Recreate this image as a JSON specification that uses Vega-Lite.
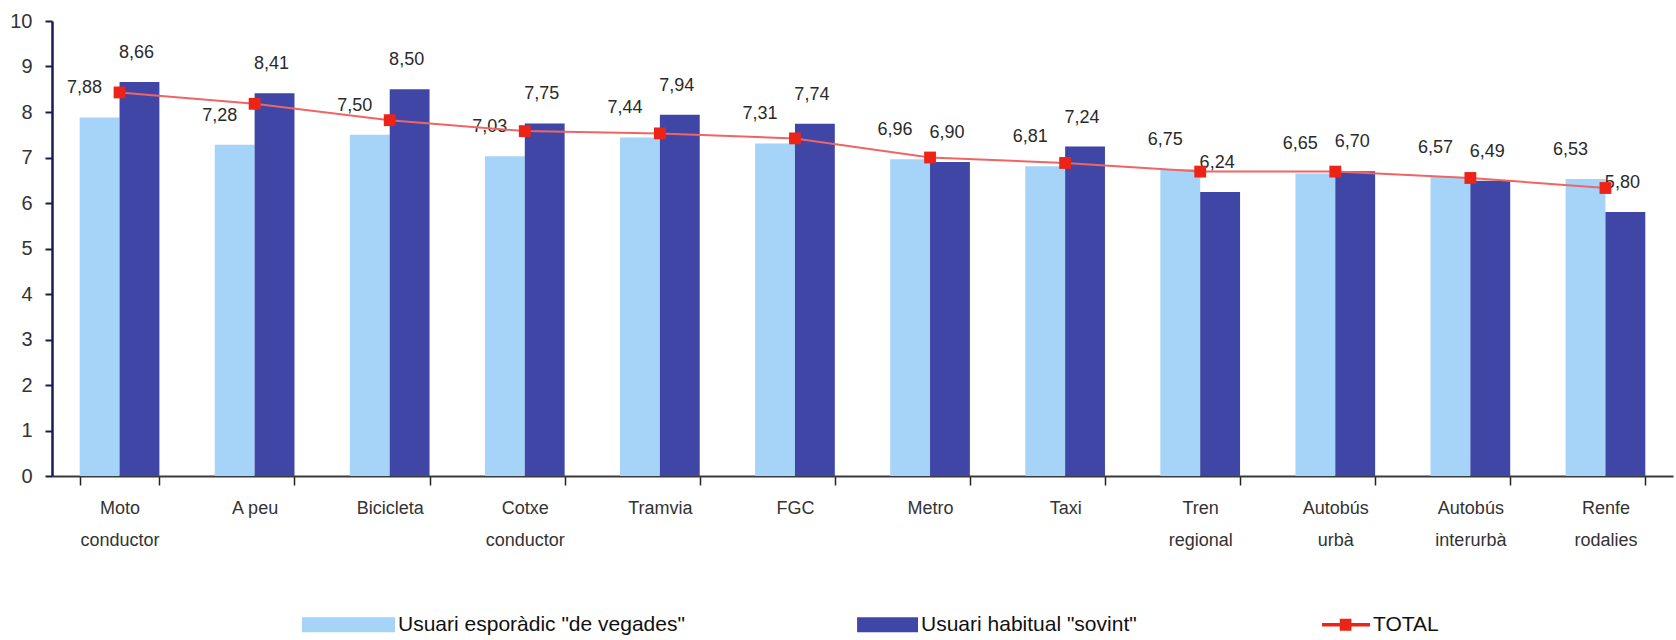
{
  "$schema": "https://vega.github.io/schema/vega-lite/v6.json",
  "width": 1621,
  "height": 455,
  "autosize": {"type": "none"},
  "padding": {"left": 52, "top": 21, "right": 3, "bottom": 164},
  "background": "white",
  "config": {
    "view": {"stroke": null},
    "font": "Liberation Sans",
    "locale": {
      "number": {"decimal": ",", "thousands": ".", "grouping": [3], "currency": ["", " €"]}
    }
  },
  "datasets": {
    "bars": [
      {"mode": "Moto conductor", "serie": "Usuari esporàdic \"de vegades\"", "valor": 7.88},
      {"mode": "Moto conductor", "serie": "Usuari habitual \"sovint\"", "valor": 8.66},
      {"mode": "A peu", "serie": "Usuari esporàdic \"de vegades\"", "valor": 7.28},
      {"mode": "A peu", "serie": "Usuari habitual \"sovint\"", "valor": 8.41},
      {"mode": "Bicicleta", "serie": "Usuari esporàdic \"de vegades\"", "valor": 7.50},
      {"mode": "Bicicleta", "serie": "Usuari habitual \"sovint\"", "valor": 8.50},
      {"mode": "Cotxe conductor", "serie": "Usuari esporàdic \"de vegades\"", "valor": 7.03},
      {"mode": "Cotxe conductor", "serie": "Usuari habitual \"sovint\"", "valor": 7.75},
      {"mode": "Tramvia", "serie": "Usuari esporàdic \"de vegades\"", "valor": 7.44},
      {"mode": "Tramvia", "serie": "Usuari habitual \"sovint\"", "valor": 7.94},
      {"mode": "FGC", "serie": "Usuari esporàdic \"de vegades\"", "valor": 7.31},
      {"mode": "FGC", "serie": "Usuari habitual \"sovint\"", "valor": 7.74},
      {"mode": "Metro", "serie": "Usuari esporàdic \"de vegades\"", "valor": 6.96},
      {"mode": "Metro", "serie": "Usuari habitual \"sovint\"", "valor": 6.90},
      {"mode": "Taxi", "serie": "Usuari esporàdic \"de vegades\"", "valor": 6.81},
      {"mode": "Taxi", "serie": "Usuari habitual \"sovint\"", "valor": 7.24},
      {"mode": "Tren regional", "serie": "Usuari esporàdic \"de vegades\"", "valor": 6.75},
      {"mode": "Tren regional", "serie": "Usuari habitual \"sovint\"", "valor": 6.24},
      {"mode": "Autobús urbà", "serie": "Usuari esporàdic \"de vegades\"", "valor": 6.65},
      {"mode": "Autobús urbà", "serie": "Usuari habitual \"sovint\"", "valor": 6.70},
      {"mode": "Autobús interurbà", "serie": "Usuari esporàdic \"de vegades\"", "valor": 6.57},
      {"mode": "Autobús interurbà", "serie": "Usuari habitual \"sovint\"", "valor": 6.49},
      {"mode": "Renfe rodalies", "serie": "Usuari esporàdic \"de vegades\"", "valor": 6.53},
      {"mode": "Renfe rodalies", "serie": "Usuari habitual \"sovint\"", "valor": 5.80}
    ],
    "total": [
      {"mode": "Moto conductor", "total": 8.43},
      {"mode": "A peu", "total": 8.18},
      {"mode": "Bicicleta", "total": 7.82},
      {"mode": "Cotxe conductor", "total": 7.58},
      {"mode": "Tramvia", "total": 7.53},
      {"mode": "FGC", "total": 7.42},
      {"mode": "Metro", "total": 7.00},
      {"mode": "Taxi", "total": 6.88},
      {"mode": "Tren regional", "total": 6.69},
      {"mode": "Autobús urbà", "total": 6.69},
      {"mode": "Autobús interurbà", "total": 6.55},
      {"mode": "Renfe rodalies", "total": 6.33}
    ]
  },
  "encoding": {
    "x": {
      "field": "mode",
      "type": "nominal",
      "sort": ["Moto conductor", "A peu", "Bicicleta", "Cotxe conductor", "Tramvia", "FGC", "Metro", "Taxi", "Tren regional", "Autobús urbà", "Autobús interurbà", "Renfe rodalies"],
      "scale": {"paddingInner": 0.41, "paddingOuter": 0.205},
      "axis": {
        "title": null,
        "labelAngle": 0,
        "labelExpr": "datum.label === 'A peu' ? datum.label : split(datum.label, ' ')",
        "labelFontSize": 18,
        "labelColor": "#333333",
        "labelLineHeight": 32,
        "labelBaseline": "top",
        "labelPadding": 14,
        "tickBand": "extent",
        "tickSize": 9,
        "tickWidth": 1.5,
        "tickColor": "#222222",
        "domainColor": "#3a3a3a",
        "domainWidth": 2,
        "grid": false
      }
    },
    "y": {
      "type": "quantitative",
      "scale": {"domain": [0, 10], "nice": false},
      "axis": {
        "title": null,
        "values": [0, 1, 2, 3, 4, 5, 6, 7, 8, 9, 10],
        "labelFontSize": 20,
        "labelColor": "#333333",
        "labelPadding": 13,
        "tickSize": 7,
        "tickWidth": 2,
        "tickColor": "#1a1a55",
        "domainColor": "#1a1a55",
        "domainWidth": 2.5,
        "grid": false
      }
    }
  },
  "layer": [
    {
      "data": {"name": "bars"},
      "mark": {"type": "bar"},
      "encoding": {
        "y": {"field": "valor", "type": "quantitative"},
        "xOffset": {
          "field": "serie",
          "type": "nominal",
          "sort": ["Usuari esporàdic \"de vegades\"", "Usuari habitual \"sovint\""],
          "scale": {"paddingInner": 0, "paddingOuter": 0}
        },
        "color": {
          "field": "serie",
          "type": "nominal",
          "scale": {
            "domain": ["Usuari esporàdic \"de vegades\"", "Usuari habitual \"sovint\"", "TOTAL"],
            "range": ["#a6d3f8", "#3f46a6", "#ec2418"]
          },
          "legend": {
            "title": null,
            "orient": "none",
            "direction": "horizontal",
            "legendX": 250,
            "legendY": 557,
            "padding": 0,
            "columnPadding": 140,
            "labelFontSize": 21,
            "labelColor": "#111111",
            "labelOffset": 3,
            "labelLimit": 400,
            "symbolSize": 8649,
            "encode": {
              "symbols": {
                "update": {
                  "shape": {"signal": "datum.value === 'TOTAL' ? 'M-0.03,-0.035H1V0.035H-0.03Z M0.35,-0.13H0.6V0.13H0.35Z' : (datum.value === 'Usuari habitual \"sovint\"' ? 'M-0.31,-0.16H1V0.16H-0.31Z' : 'M-1,-0.16H1V0.16H-1Z')"},
                  "size": {"value": 8649},
                  "fill": {"scale": "color", "field": "value"},
                  "fillOpacity": {"value": 1},
                  "stroke": {"value": "transparent"},
                  "strokeWidth": {"value": 0}
                }
              }
            }
          }
        }
      }
    },
    {
      "data": {"name": "bars"},
      "transform": [{"filter": "datum.serie === 'Usuari esporàdic \"de vegades\"'"}],
      "mark": {"type": "text", "fontSize": 18, "color": "#2a2a2a", "baseline": "middle", "dx": -15, "dy": -29},
      "encoding": {
        "y": {"field": "valor", "type": "quantitative"},
        "xOffset": {"field": "serie", "type": "nominal"},
        "text": {"field": "valor", "type": "quantitative", "format": ".2f"}
      }
    },
    {
      "data": {"name": "bars"},
      "transform": [{"filter": "datum.serie === 'Usuari habitual \"sovint\"'"}],
      "mark": {"type": "text", "fontSize": 18, "color": "#2a2a2a", "baseline": "middle", "dx": -3, "dy": -29},
      "encoding": {
        "y": {"field": "valor", "type": "quantitative"},
        "xOffset": {"field": "serie", "type": "nominal"},
        "text": {"field": "valor", "type": "quantitative", "format": ".2f"}
      }
    },
    {
      "data": {"name": "total"},
      "mark": {"type": "line", "color": "#f06464", "strokeWidth": 2},
      "encoding": {
        "y": {"field": "total", "type": "quantitative"}
      }
    },
    {
      "data": {"name": "total"},
      "mark": {"type": "point", "shape": "square", "filled": true, "size": 140, "opacity": 1},
      "encoding": {
        "y": {"field": "total", "type": "quantitative"},
        "color": {"datum": "TOTAL"}
      }
    }
  ]
}
